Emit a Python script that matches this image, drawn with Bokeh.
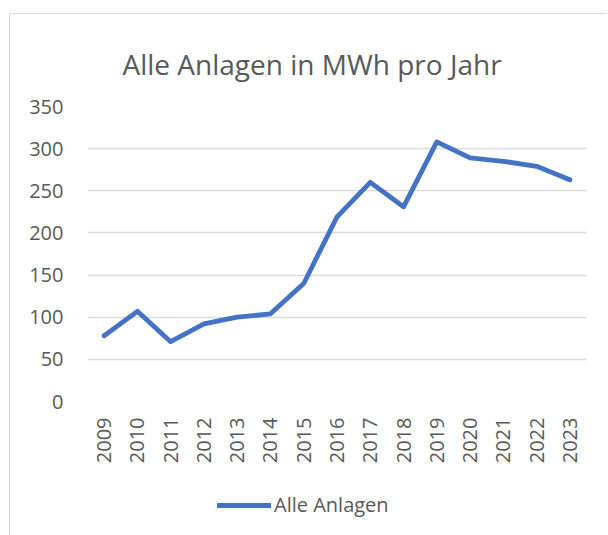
import math
from bokeh.plotting import figure
from bokeh.layouts import column
from bokeh.models import Legend, LegendItem, Title, FixedTicker, ColumnDataSource
from bokeh.embed import file_html
from bokeh.resources import INLINE

years = [str(y) for y in range(2009, 2024)]
values = [78, 107, 71, 92, 100, 104, 140, 219, 260, 231, 308, 289, 285, 279, 263]
y_ticks = [0, 50, 100, 150, 200, 250, 300, 350]
title_text = "Alle Anlagen in MWh pro Jahr"
series_name = "Alle Anlagen"

FONT = "Open Sans"
TXT = "#595959"
LINE = "#4472C4"

# main chart
p = figure(width=597, height=456, x_range=years, y_range=(0, 350),
           output_backend="svg", toolbar_location=None,
           min_border_left=77, min_border_right=21, min_border_top=92, min_border_bottom=69)
p.outline_line_color = None
p.background_fill_color = "white"
p.border_fill_color = "white"

src = ColumnDataSource(dict(x=years, y=values))
p.line("x", "y", source=src, line_color=LINE, line_width=4.8,
       line_join="round", line_cap="round")

p.xgrid.grid_line_color = None
p.ygrid.grid_line_color = "#d9d9d9"
p.ygrid.grid_line_width = 1.3
p.yaxis.ticker = FixedTicker(ticks=y_ticks)

for ax in (p.xaxis[0], p.yaxis[0]):
    ax.axis_line_color = None
    ax.major_tick_line_color = None
    ax.minor_tick_line_color = None
    ax.major_tick_out = 0
    ax.major_tick_in = 0
    ax.major_label_text_font = FONT
    ax.major_label_text_font_size = "20px"
    ax.major_label_text_color = TXT
p.yaxis.major_label_standoff = 24
p.xaxis.major_label_standoff = 16
p.xaxis.major_label_orientation = math.pi / 2

p.title = Title(text=title_text, align="left", offset=35, standoff=48,
                text_font=FONT, text_font_size="28px", text_color=TXT,
                text_font_style="normal")

# legend strip
lg = figure(width=597, height=65, x_range=years, y_range=(1000, 2000),
            output_backend="svg", toolbar_location=None, min_border=0)
lg.outline_line_color = None
lg.axis.visible = False
lg.grid.visible = False
lg.border_fill_color = "white"
lsrc = ColumnDataSource(dict(x=years, y=values))
lr = lg.line("x", "y", source=lsrc, line_color=LINE, line_width=4.8,
             line_join="round", line_cap="round")
legend = Legend(items=[LegendItem(label=series_name, renderers=[lr])],
                location=(130, 17), orientation="horizontal",
                glyph_width=54, glyph_height=20,
                label_standoff=3, padding=0, margin=0, border_line_color=None,
                background_fill_alpha=0, label_text_font=FONT,
                label_text_font_size="20px", label_text_color=TXT)
lg.add_layout(legend, "center")

layout = column(p, lg, spacing=0)
layout.margin = (13, 0, 0, 9)
layout.styles = {"border-left": "1px solid #d9d9d9", "border-top": "1px solid #d9d9d9"}

open("out.html", "w").write(file_html(layout, INLINE))
